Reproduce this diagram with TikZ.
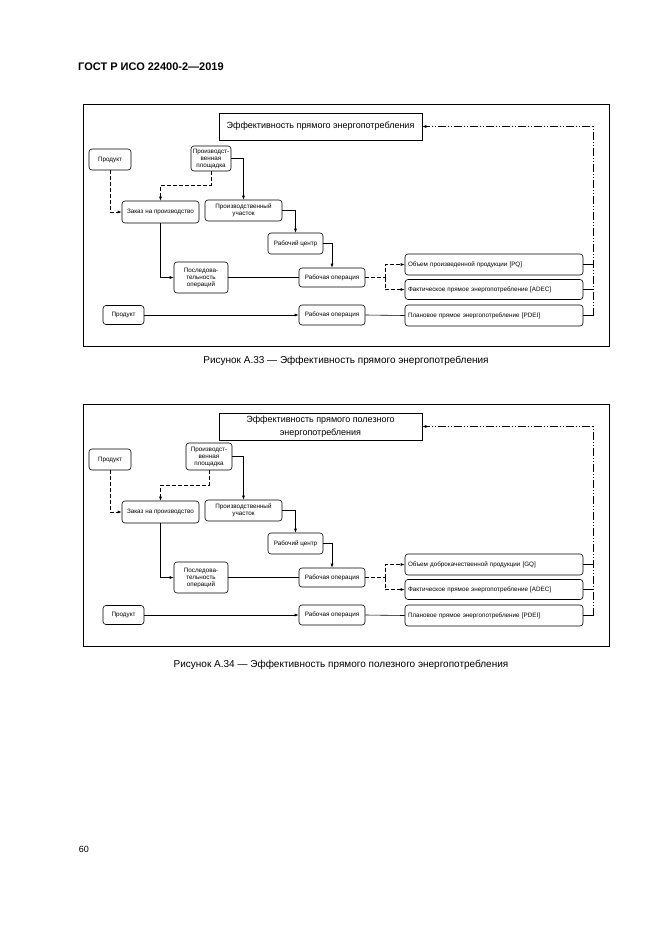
\documentclass[tikz,border=0pt]{standalone}
\usepackage{fontspec}
\setmainfont{Liberation Sans}
\usetikzlibrary{arrows.meta}
\newcommand\bxf{\fontsize{6.3}{7}\selectfont}
\tikzset{
 bx/.style={draw, rounded corners=3pt, inner sep=0pt, font=\bxf, align=center, line width=0.6pt},
 rbx/.style={bx, text width=172pt, align=left, minimum width=178pt},
 ttl/.style={draw, inner sep=0pt, line width=0.7pt, font=\fontsize{9}{13}\selectfont, align=center, minimum width=203pt, minimum height=27pt},
 ln/.style={line width=0.6pt},
 arr/.style={ln, -{Latex[length=4pt,width=3pt]}},
 dsh/.style={dash pattern=on 4pt off 2pt},
 ddot/.style={dash pattern=on 8pt off 2pt on 1pt off 2pt on 1pt off 2pt},
 frm/.style={draw, line width=0.9pt},
 captext/.style={font=\fontsize{10}{12}\selectfont, inner sep=0pt},
}
\newcommand\figbody[6]{%
 \draw[frm] (83,104) rectangle (609,346);
 \node[ttl] (title) at (320.5,126.5) {#1};
 \node[bx, minimum width=42pt, minimum height=21pt] (prodA) at (110,159.5) {Продукт};
 \node[bx, minimum width=#3, minimum height=#4] (plosh) at (#5) {Производст-\\венная\\площадка};
 \node[bx, minimum width=77pt, minimum height=22pt] (zakaz) at (160.5,212) {Заказ на производство};
 \node[bx, minimum width=77pt, minimum height=21pt] (uch) at (243.5,210.5) {Производственный\\участок};
 \node[bx, minimum width=55pt, minimum height=21pt] (rc) at (295.5,243.5) {Рабочий центр};
 \node[bx, minimum width=54pt, minimum height=31pt] (posl) at (201,277.5) {Последова-\\тельность\\операций};
 \node[bx, minimum width=66pt, minimum height=19pt] (rop1) at (332,277.5) {Рабочая операция};
 \node[bx, minimum width=41pt, minimum height=19pt] (prodB) at (123.5,315) {Продукт};
 \node[bx, minimum width=66pt, minimum height=20pt] (rop2) at (332,315) {Рабочая операция};
 \node[rbx, minimum height=21pt] (pq) at (494,264.5) {#2};
 \node[rbx, minimum height=20pt] (adec) at (494,289.5) {Фактическое прямое энергопотребление [ADEC]};
 \node[rbx, minimum height=21pt] (pdei) at (494,315.5) {Плановое прямое энергопотребление [PDEI]};
 \coordinate (fork) at (385,277.5);
 \coordinate (r) at (593,126.5);
 \draw[arr, dsh] (prodA.south) |- (zakaz.west);
 \draw[arr, dsh] (plosh.south) -- ++(0,#6) -| (zakaz.north);
 \draw[arr] (plosh.east) -| (uch.north);
 \draw[arr] (uch.east) -| (rc.north);
 \draw[arr] (rc.east) -| (rop1.north);
 \draw[arr] (zakaz.south) |- (posl.west);
 \draw[ln] (posl.east) -- (rop1.west);
 \draw[arr] (prodB.east) -- (rop2.west);
 \draw[ln, dsh] (rop1.east) -- (fork);
 \draw[arr, dsh] (fork) |- (pq.west);
 \draw[arr, dsh] (fork) |- (adec.west);
 \draw[ln] (rop2.east) -- (pdei.west);
 \draw[ln] (pq.east) -- (pq.east -| r);
 \draw[ln] (adec.east) -- (adec.east -| r);
 \draw[ln] (pdei.east) -- (pdei.east -| r);
 \draw[arr, ddot] (pdei.east -| r) -- (r) -- (title.east);
}
\begin{document}
\begin{tikzpicture}[x=1pt, y=-1pt]
 \useasboundingbox[fill=white] (0,0) rectangle (661,935);
 \node[anchor=west, font=\fontsize{11}{13}\selectfont\bfseries, inner sep=0pt] (head) at (78,67) {ГОСТ Р ИСО 22400-2—2019};
 \begin{scope}[name prefix=a-]
  \figbody{Эффективность прямого энергопотребления}{Объем произведенной продукции [PQ]}{40pt}{25pt}{211,158.5}{14}
 \end{scope}
 \node[captext] (cap1) at (346,361) {Рисунок А.33 — Эффективность прямого энергопотребления};
 \begin{scope}[name prefix=b-, yshift=-300pt]
  \figbody{Эффективность прямого полезного\\энергопотребления}{Объем доброкачественной продукции [GQ]}{46pt}{27pt}{209,156.5}{15}
 \end{scope}
 \node[captext] (cap2) at (341,665) {Рисунок А.34 — Эффективность прямого полезного энергопотребления};
 \node[font=\fontsize{9}{11}\selectfont, inner sep=0pt] (pnum) at (84,849) {60};
\end{tikzpicture}
\end{document}
